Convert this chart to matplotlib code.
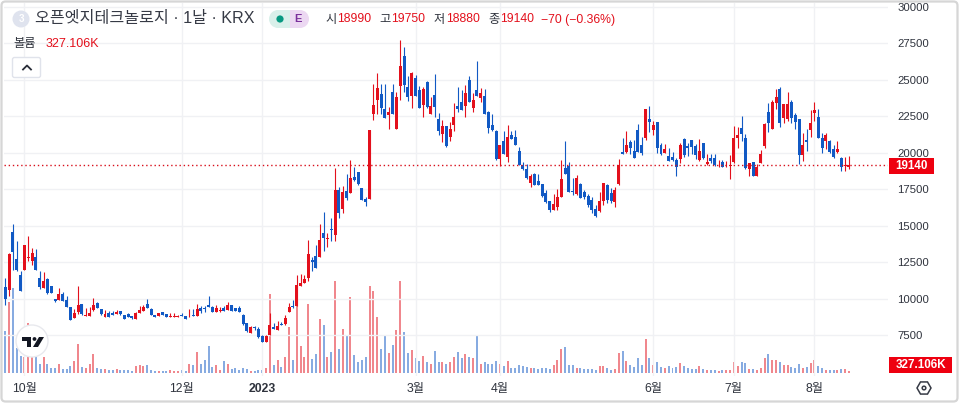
import matplotlib
matplotlib.use("Agg")
import matplotlib.pyplot as plt
from matplotlib.patches import Circle, FancyBboxPatch, Polygon, Rectangle, RegularPolygon
import numpy as np

plt.rcParams['font.family'] = ['Liberation Sans', 'Noto Sans CJK KR', 'DejaVu Sans']

# daily prices
opens = [
    10790,10560,14570,12730,11630,11930,12800,12550,12870,11400,
    10720,11360,10880,9960,9920,10330,9920,9440,8680,9070,
    9600,8770,8820,9230,9710,9300,8700,9020,8980,8910,
    9140,8840,8930,8820,8630,9020,9140,9640,9300,8860,
    8820,9070,8930,8750,8750,8730,8890,8790,8770,8890,
    8820,9340,9320,9550,9390,9090,9140,9370,9230,9570,
    9320,9340,8890,8310,7670,8020,7920,7400,6990,7470,
    8060,7860,8240,8220,9070,9500,9500,10880,11090,11430,
    12650,12920,12850,14480,14110,14750,14340,17430,16130,17360,
    17270,18370,18670,17570,16810,16860,22630,23640,24050,23020,
    22560,24190,21650,24550,26660,24530,23890,25150,24320,23290,
    24830,22630,23980,22330,21300,21850,21100,21920,23230,23500,
    23230,24990,23040,24320,23730,23910,22770,21920,21460,19560,
    20780,19740,21230,21050,20130,19170,18880,17960,18560,18080,
    17870,17210,16680,16060,16290,17000,18970,19110,17390,17140,
    17870,17280,17050,16790,16150,16020,16700,17800,17250,16610,
    17870,20070,20070,20760,20140,21580,20550,21010,22340,21580,
    22110,20500,20000,19790,19730,19520,19540,20940,20460,20850,
    20440,19500,20660,19200,19630,19630,19080,19340,19080,19080,
    19360,20990,21670,21030,18860,19340,18400,19310,20460,22820,
    21650,23440,24350,22360,22290,23480,22590,22290,19820,20850,
    21530,22700,22450,21030,20800,20800,20280,20050,19630,19080,18990]
highs = [
    11400,13100,15140,13920,11910,13690,14310,13470,13420,11910,
    11840,11400,10880,9960,10720,10420,10190,9440,9280,10880,
    9620,9370,9440,10030,9780,9300,9230,9120,9140,9230,
    9140,8840,9000,8820,9070,9460,9530,9960,9320,8860,
    9020,9070,8930,9000,8980,8890,8980,8790,9300,9280,
    9600,9500,9500,10190,9500,9550,9410,9460,9780,9570,
    9370,9460,8950,8340,8130,8130,8020,7510,7490,9000,
    8310,8450,8360,8860,9690,9920,11590,11710,11640,14000,
    12850,13650,15100,15920,14480,15510,18940,17680,17730,18530,
    19490,18990,18670,17570,16950,21580,24740,25490,24740,24740,
    23130,24740,24190,27760,27260,25240,25520,25330,24550,24510,
    24900,23840,25420,22720,22240,21850,22100,23410,24530,24320,
    24670,25240,24100,26320,24440,24370,22880,22680,21580,20550,
    21460,21920,21460,21580,20410,19400,19220,18560,18600,18560,
    17870,17460,16700,17180,17500,19520,20820,19340,18280,18490,
    17960,17460,17180,17000,16430,17320,17920,17870,17570,17640,
    19570,21030,21490,20890,20850,21990,21080,23020,23230,22150,
    22110,20660,20620,20320,20050,19630,20640,20990,20640,20870,
    20570,20920,20690,19950,19890,19890,19470,19520,19430,19820,
    21810,21790,22500,21260,19310,19340,19240,20160,22060,23440,
    23620,24350,24530,23320,24190,23600,22700,22340,21330,21600,
    22910,23460,22980,21370,21370,20850,20500,20780,19730,19730,19750]
lows = [
    9530,10150,11930,11860,10490,11930,12550,12320,11930,10650,
    10720,10310,10350,9780,9920,9850,9440,8500,8680,8930,
    8860,8770,8820,9180,9320,8890,8700,8750,8840,8910,
    8890,8610,8700,8630,8570,9020,9140,9320,8840,8700,
    8820,8840,8700,8700,8700,8700,8770,8630,8750,8770,
    8820,9000,9070,9440,9070,9090,9090,9180,9230,9180,
    9120,9050,8200,7720,7670,7860,7280,6990,6990,7470,
    7920,7860,8200,8200,9050,9340,9500,10860,11040,11200,
    11890,12070,12850,13260,13520,13950,13950,15510,15850,16770,
    17230,18030,17800,16740,16360,16860,22220,22630,22680,22360,
    21620,22630,21620,23590,24190,23550,23040,23910,23040,22470,
    23090,22630,22470,21190,20710,20410,20840,21460,22790,22950,
    22470,23450,22770,23910,23450,22630,21350,21460,19520,19100,
    19930,19400,20960,20550,19170,18830,18190,17620,17780,17780,
    16980,16540,15970,16040,16040,17000,18560,17280,17120,17090,
    16910,16860,16310,15860,15600,15970,16430,16540,16540,16310,
    17800,19890,19980,19930,19660,20050,19840,20850,21400,21240,
    19980,19860,20000,19410,19410,18440,19270,19730,19770,19890,
    19540,19430,19590,19130,19310,19080,19040,19020,19040,18170,
    19310,20340,20800,18920,18400,18440,18400,19270,20300,21420,
    21600,23020,21760,22020,22180,22060,21600,19240,19430,20090,
    21080,22180,21010,20000,20280,20000,19630,20000,18740,18740,18880]
closes = [
    9990,13080,13210,11930,10490,13690,12850,13120,11930,10790,
    11220,10370,10350,9850,10330,9850,9440,8500,9020,9570,
    8910,8890,9020,9570,9320,8910,8950,8750,8840,9090,
    8910,8630,8700,8660,9000,9230,9440,9320,8840,8700,
    9000,8840,8700,8770,8770,8820,8770,8630,8820,8770,
    9300,9120,9300,9440,9070,9320,9230,9180,9570,9180,
    9120,9050,8270,7740,8020,7970,7330,6990,7440,8180,
    7920,8130,8200,8660,9410,9410,10900,11090,11360,13040,
    12510,12120,14000,14130,14180,14710,17430,15850,17290,16930,
    18260,18160,17890,16770,16630,21580,23290,24440,23040,22360,
    22810,22630,23840,25970,24670,23800,25450,23910,23040,24370,
    23130,23230,23160,21510,21850,20450,21650,22470,23000,22950,
    24120,23500,23640,23910,24100,22630,21710,21580,19560,20550,
    19930,21050,20960,20550,19170,18870,18240,18420,17800,17800,
    17050,16590,16040,16500,16980,18210,18560,17320,17280,18280,
    16930,16950,16430,16040,15650,16700,17920,16730,16700,17460,
    19180,19890,20550,20320,19660,20050,19980,23020,22080,21920,
    20300,19930,20280,19410,19470,18990,20500,19820,20320,20370,
    19820,20090,19630,19380,19410,19130,19110,19020,19110,19180,
    20990,21190,21260,18970,19310,18440,18990,19890,21950,22020,
    23460,23800,22020,23320,23320,22360,22130,19840,20500,20710,
    22020,22910,21010,20340,21190,20050,19730,20280,19020,19150,19140]

# volume in thousands of shares
volumes = [
    6880,11660,13920,4020,2750,2530,8250,2640,2530,1430,
    2590,1430,830,830,1430,610,610,1100,1930,4730,
    940,770,1430,3080,720,610,610,500,440,610,
    500,440,440,280,1160,1270,1050,1270,440,280,
    330,280,280,440,330,280,390,280,1430,1270,
    3410,1430,2090,4400,940,1270,440,1930,1430,610,
    720,440,720,610,280,330,390,440,770,12980,
    1320,2090,940,2590,7540,2090,11000,4400,2590,11330,
    2260,3080,8800,7870,2590,3410,15130,3910,7210,6050,
    12490,2920,1760,2090,2590,14300,13480,9190,3910,6220,
    3250,4570,7040,15130,6710,3250,3740,2420,1930,2750,
    1760,1430,3580,1760,1760,1430,1760,2590,3410,2420,
    3080,2590,2420,6050,1430,1760,1430,1430,1930,1430,
    1100,1930,770,770,1270,1100,940,770,770,610,
    770,770,610,1270,2090,3910,4240,1270,1270,770,
    770,660,610,610,440,1100,1100,770,440,610,
    3250,3580,1930,1270,940,2420,1270,5560,2420,1270,
    1760,940,770,1100,770,940,1600,1100,770,610,
    610,1100,610,440,440,440,330,440,440,440,
    1760,1100,1760,1600,610,610,440,770,2420,3080,
    2090,2090,1760,1270,1270,940,770,1430,770,940,
    1600,2090,1100,770,440,440,440,440,610,610,327]

price_ticks = [7500, 10000, 12500, 15000, 17500, 20000, 22500, 25000, 27500, 30000]
month_pos = [5, 46, 67, 107, 129, 169, 190, 211]
month_labels = ["10월", "12월", "2023", "3월", "4월", "6월", "7월", "8월"]
last_price = closes[-1]

RED = "#e3101c"
BLUE = "#1159c4"
GRID = "#f0f1f4"
TEXT = "#2f333d"

fig = plt.figure(figsize=(9.6, 4.04), dpi=100, facecolor="white")

# plot area in pixels: x 4..888, y 3..376
ax_vol = fig.add_axes([4/960, 1-376/404, 884/960, 373/404], zorder=1)
ax = fig.add_axes([4/960, 1-376/404, 884/960, 373/404], zorder=2)
ax.patch.set_visible(False)

x = np.arange(len(closes))
opens = np.array(opens)
closes = np.array(closes)
colors = [RED if c >= o else BLUE for o, c in zip(opens, closes)]

# volume bars underneath
ax_vol.bar(x, volumes, width=0.52, color=colors, alpha=0.5, linewidth=0)
ax_vol.set_xlim(-0.34, 230.2)
ax_vol.set_ylim(-545, 61000)
ax_vol.axis("off")

# candles
ax.vlines(x, lows, highs, colors=colors, linewidth=0.8, zorder=3)
ax.bar(x, np.abs(closes-opens), bottom=np.minimum(opens, closes), width=0.78,
       color=colors, linewidth=0, zorder=4)
ax.axhline(last_price, color="#d8101c", linestyle=(0, (1, 2)), linewidth=1.0, zorder=5)

ax.set_xlim(-0.34, 230.2)
ax.set_ylim(4687, 30274)
ax.set_yticks(price_ticks)
ax.set_xticks(month_pos)
ax.set_xticklabels(month_labels)
ax.yaxis.tick_right()
ax.tick_params(axis="both", length=0, labelsize=8.2, labelcolor=TEXT)
ax.tick_params(axis="y", pad=6.5)
ax.tick_params(axis="x", pad=5, labelsize=8.8)
ax.get_xticklabels()[2].set_fontweight("bold")
ax.grid(True, color=GRID, linewidth=1.0)
ax.set_axisbelow(True)
for s in ax.spines.values():
    s.set_visible(False)

# overlay in pixel coordinates for the header and labels
ov = fig.add_axes([0, 0, 1, 1], zorder=5)
ov.set_xlim(0, 960)
ov.set_ylim(404, 0)
ov.axis("off")
ov.patch.set_visible(False)

ov.add_patch(FancyBboxPatch((1.5, 1.5), 956, 400, boxstyle="round,pad=0,rounding_size=4",
                            fill=False, edgecolor="#d6d6d6", linewidth=1.6))

# header
ov.add_patch(Circle((21, 19), 8.5, color="#dfe3ee", linewidth=0))
ov.text(21, 19, "3", color="white", fontsize=7, ha="center", va="center", fontweight="bold")
ov.text(35, 19, "오픈엣지테크놀로지 · 1날 · KRX", color="#363a45", fontsize=11.6, va="center")

ov.add_patch(Circle((278, 19), 9, color="#d9f0ea", linewidth=0))
ov.add_patch(Rectangle((278, 10), 12, 18, color="#d9f0ea", linewidth=0))
ov.add_patch(Rectangle((290, 10), 10, 18, color="#ecd8f2", linewidth=0))
ov.add_patch(Circle((300, 19), 9, color="#ecd8f2", linewidth=0))
ov.add_patch(Circle((280, 19), 3.6, color="#089981", linewidth=0))
ov.text(298, 19.5, "E", color="#7b2f9c", fontsize=8, fontweight="bold", ha="center", va="center")

for tx, label, col in [(325, "시", TEXT), (337, "18990", RED), (379, "고", TEXT), (391, "19750", RED),
                       (434, "저", TEXT), (446, "18880", RED), (488, "종", TEXT), (500, "19140", RED),
                       (541, "−70 (−0.36%)", RED)]:
    ov.text(tx, 19.5, label, color=col, fontsize=8.8, va="center")

ov.text(13, 44, "볼륨", color=TEXT, fontsize=8.8, va="center")
ov.text(46, 44, "327.106K", color=RED, fontsize=9, va="center")

ov.add_patch(FancyBboxPatch((12.5, 57.5), 28, 20, boxstyle="round,pad=0,rounding_size=2",
                            facecolor="white", edgecolor="#e0e3eb", linewidth=1))
ov.plot([23, 27, 31], [69.5, 65.5, 69.5], color="#2a2e39", linewidth=1.3)

# TradingView badge
ov.add_patch(Circle((32, 341), 16, facecolor="white", edgecolor="#e8e9ee", linewidth=1))
ov.add_patch(Polygon([(22, 337), (31, 337), (31, 347), (27, 347), (27, 340.5), (22, 340.5)], color="#131722", linewidth=0))
ov.add_patch(Circle((34.5, 339), 1.9, color="#131722", linewidth=0))
ov.add_patch(Polygon([(39, 337), (44, 337), (38, 347), (33, 347)], color="#131722", linewidth=0))

# last value labels on the scale
ov.add_patch(Rectangle((889, 158), 45, 16, color="#ee0010", linewidth=0))
ov.text(911.5, 166, "19140", color="white", fontsize=8.4, fontweight="bold", ha="center", va="center")
ov.add_patch(Rectangle((889, 357), 63, 16, color="#ee0010", linewidth=0))
ov.text(920.5, 365.5, "327.106K", color="white", fontsize=8.4, fontweight="bold", ha="center", va="center")

# settings icon
ov.add_patch(RegularPolygon((924, 388), 6, radius=7, orientation=np.pi/2, fill=False, edgecolor="#363a45", linewidth=1.1))
ov.add_patch(Circle((924, 388), 1.8, fill=False, edgecolor="#363a45", linewidth=1.1))

fig.savefig("out.png", dpi=100)
